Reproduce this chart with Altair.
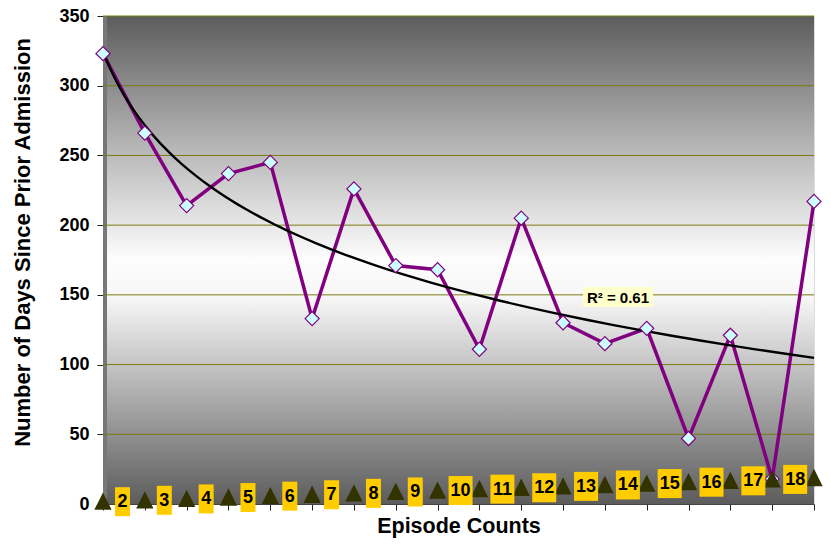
import altair as alt
import pandas as pd

# ---- data ----
episode = list(range(1, 19))
days = [323, 266, 214, 237, 245, 133, 226, 171, 168, 111, 205, 130, 115, 126, 47, 121, 18, 217]
count_values = list(range(2, 20))          # triangle series (plotted value = its label)
y_ticks = [0, 50, 100, 150, 200, 250, 300, 350]
r2_text = "R\u00b2 = 0.61"

W, H = 711, 488
FONT = "Liberation Sans"

df = pd.DataFrame({"ep": episode, "days": days, "cnt": count_values})
df["label"] = df["cnt"].astype(str)
grid_df = pd.DataFrame({"v": y_ticks[1:]})
one = pd.DataFrame({"a": [0]})

xs = alt.Scale(domain=[1, 18], nice=False, zero=False)
ys = alt.Scale(domain=[0, 350], nice=False)

gradient = {
    "gradient": "linear", "x1": 0, "y1": 0, "x2": 0, "y2": 1,
    "stops": [
        {"offset": 0.0, "color": "#5c5c5c"},
        {"offset": 0.25, "color": "#b0b0b0"},
        {"offset": 0.5, "color": "#fdfdfd"},
        {"offset": 0.58, "color": "#f6f6f6"},
        {"offset": 0.78, "color": "#acacac"},
        {"offset": 1.0, "color": "#5c5c5c"},
    ],
}

bg = alt.Chart(one).mark_rect(color=gradient).encode(
    x=alt.value(0), x2=alt.value(W), y=alt.value(0), y2=alt.value(H)
)
edge = alt.Chart(one).mark_rect(color="#777777").encode(
    x=alt.value(0), x2=alt.value(4), y=alt.value(0), y2=alt.value(H)
)

grid = alt.Chart(grid_df).mark_rule(color="#7a7a10", strokeWidth=1).encode(
    y=alt.Y("v:Q", scale=ys)
)

base = alt.Chart(df)

trend = base.transform_regression("ep", "days", method="log").mark_line(
    color="black", strokeWidth=2.4
).encode(x=alt.X("ep:Q", scale=xs), y=alt.Y("days:Q", scale=ys))

line = base.mark_line(color="#800080", strokeWidth=3.5).encode(
    x=alt.X(
        "ep:Q", scale=xs,
        axis=alt.Axis(
            values=episode, labels=False, ticks=True, tickSize=6, tickColor="#222",
            domainColor="#444", grid=False, title="Episode Counts",
            titleFont=FONT, titleFontSize=21.5, titleFontWeight="bold",
            titleColor="black", titlePadding=5,
        ),
    ),
    y=alt.Y(
        "days:Q", scale=ys,
        axis=alt.Axis(
            values=y_ticks, grid=False, tickSize=6, tickColor="#222", domainColor="#444",
            labelFont=FONT, labelFontSize=18, labelFontWeight="bold", labelColor="black",
            labelPadding=8,
            title="Number of Days Since Prior Admission", titleFont=FONT,
            titleFontSize=22, titleFontWeight="bold", titleColor="black",
            titleX=-81, titleY=226, titleAngle=-90, titleBaseline="middle",
            titleAlign="center",
        ),
    ),
)

pts = base.mark_point(
    shape="diamond", filled=True, fill="#ccffff", stroke="#800080",
    strokeWidth=1.2, size=200, opacity=1,
).encode(x=alt.X("ep:Q", scale=xs), y=alt.Y("days:Q", scale=ys))

tri = base.mark_point(
    shape="M0,-1L1,1L-1,1Z", filled=True, color="#333300", size=300, opacity=1
).encode(x=alt.X("ep:Q", scale=xs), y=alt.Y("cnt:Q", scale=ys))

box1 = base.transform_filter("datum.cnt < 10").mark_rect(
    color="#ffcc00", xOffset=12, x2Offset=27, yOffset=-14, y2Offset=15
).encode(
    x=alt.X("ep:Q", scale=xs), x2="ep:Q",
    y=alt.Y("cnt:Q", scale=ys), y2="cnt:Q",
)
box2 = base.transform_filter("datum.cnt >= 10").mark_rect(
    color="#ffcc00", xOffset=11, x2Offset=35, yOffset=-14, y2Offset=15
).encode(
    x=alt.X("ep:Q", scale=xs), x2="ep:Q",
    y=alt.Y("cnt:Q", scale=ys), y2="cnt:Q",
)
txt1 = base.transform_filter("datum.cnt < 10").mark_text(
    font=FONT, fontSize=18, fontWeight="bold", color="black", dx=19.5, dy=1,
    align="center", baseline="middle",
).encode(x=alt.X("ep:Q", scale=xs), y=alt.Y("cnt:Q", scale=ys), text="label:N")
txt2 = base.transform_filter("datum.cnt >= 10").mark_text(
    font=FONT, fontSize=18, fontWeight="bold", color="black", dx=23, dy=1,
    align="center", baseline="middle",
).encode(x=alt.X("ep:Q", scale=xs), y=alt.Y("cnt:Q", scale=ys), text="label:N")

r2_box = alt.Chart(one).mark_rect(color="#ffffcc").encode(
    x=alt.value(480), x2=alt.value(550), y=alt.value(271), y2=alt.value(291)
)
r2_lbl = alt.Chart(one).mark_text(
    font=FONT, fontSize=15, fontWeight="bold", color="black", align="center",
    baseline="middle", text=r2_text,
).encode(x=alt.value(515), y=alt.value(282))

chart = alt.layer(
    bg, edge, grid, line, trend, pts, tri, box1, box2, txt1, txt2, r2_box, r2_lbl
).properties(
    width=W, height=H,
    autosize=alt.AutoSizeParams(type="none"),
    padding={"left": 95, "top": 8, "right": 9, "bottom": 36},
).configure_view(stroke=None).configure(background="white")

chart.save("out.html", embed_options={"renderer": "svg", "actions": False})
